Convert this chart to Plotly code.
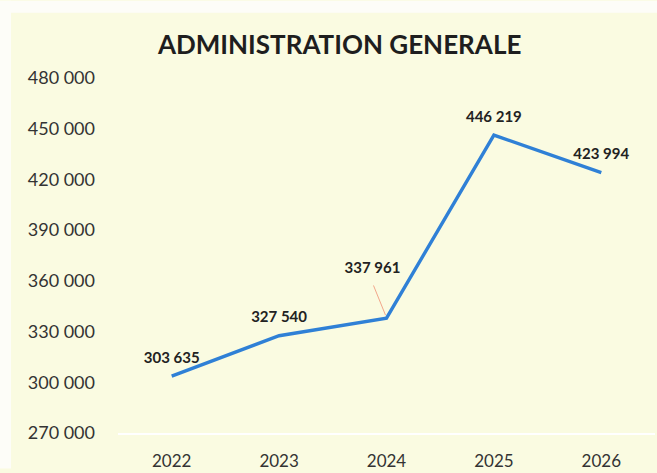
import plotly.graph_objects as go

years = ["2022", "2023", "2024", "2025", "2026"]
values = [303635, 327540, 337961, 446219, 423994]
value_labels = ["303 635", "327 540", "337 961", "446 219", "423 994"]
y_ticks = [270000, 300000, 330000, 360000, 390000, 420000, 450000, 480000]
y_tick_labels = ["270 000", "300 000", "330 000", "360 000", "390 000", "420 000", "450 000", "480 000"]

FONT = "Lato, Open Sans, sans-serif"
BG = "#fafbe1"
Y_MIN, Y_MAX = 270000, 480000
PLOT_H = 473 - 78 - 36
PLOT_W = 657 - 118 - 2
UNIT_PER_PX_Y = (Y_MAX - Y_MIN) / PLOT_H
UNIT_PER_PX_X = 5 / PLOT_W

xs = list(range(len(years)))

fig = go.Figure()
fig.add_trace(go.Scatter(
    x=xs, y=values, mode="lines",
    line=dict(color="#2f80d6", width=3.4),
    hoverinfo="skip", showlegend=False,
))

# data labels (all but the one with a leader line)
lab_x = [x for i, x in enumerate(xs) if i != 2]
lab_y = [v for i, v in enumerate(values) if i != 2]
lab_t = ["<b>%s</b>" % t for i, t in enumerate(value_labels) if i != 2]
fig.add_trace(go.Scatter(
    x=lab_x, y=lab_y, text=lab_t, mode="markers+text", textposition="top center",
    marker=dict(size=14, color="rgba(0,0,0,0)"),
    textfont=dict(family=FONT, size=15, color="#222222"),
    hoverinfo="skip", showlegend=False, cliponaxis=False,
))

# offset label with a leader line for 2024
v2 = values[2]
fig.add_trace(go.Scatter(
    x=[xs[2] - 1 * UNIT_PER_PX_X, xs[2] - 13 * UNIT_PER_PX_X],
    y=[v2 + 3 * UNIT_PER_PX_Y, v2 + 33 * UNIT_PER_PX_Y],
    mode="lines", line=dict(color="#f2a68a", width=1),
    hoverinfo="skip", showlegend=False,
))
fig.add_trace(go.Scatter(
    x=[xs[2] - 14 * UNIT_PER_PX_X], y=[v2 + 49 * UNIT_PER_PX_Y],
    text=["<b>%s</b>" % value_labels[2]], mode="text", textposition="middle center",
    textfont=dict(family=FONT, size=15, color="#222222"),
    hoverinfo="skip", showlegend=False, cliponaxis=False,
))

fig.update_layout(
    width=657, height=473,
    margin=dict(l=118, r=2, t=78, b=36),
    paper_bgcolor=BG, plot_bgcolor=BG,
    title=dict(text="<b>ADMINISTRATION GENERALE</b>", x=0.517, xanchor="center",
               y=0.905, yanchor="middle",
               font=dict(family=FONT, size=26, color="#1e1e1e")),
    xaxis=dict(
        range=[-0.5, 4.5], tickvals=xs, ticktext=years, showgrid=False,
        showline=True, linecolor="#ffffff", linewidth=2,
        ticks="", tickfont=dict(family=FONT, size=17, color="#333333"),
        ticklabelstandoff=12, zeroline=False,
    ),
    yaxis=dict(
        range=[Y_MIN, Y_MAX], tickvals=y_ticks, ticktext=y_tick_labels,
        showgrid=False, zeroline=False, showline=False, ticks="",
        tickfont=dict(family=FONT, size=18, color="#333333"),
        ticklabelstandoff=22,
    ),
    shapes=[
        dict(type="rect", xref="paper", yref="paper",
             x0=-118 / PLOT_W, x1=1 + 2 / PLOT_W,
             y0=1 + 66 / PLOT_H, y1=1 + 78 / PLOT_H,
             fillcolor="#fdfdf8", line=dict(width=0), layer="below"),
        dict(type="rect", xref="paper", yref="paper",
             x0=-118 / PLOT_W, x1=-107 / PLOT_W,
             y0=-36 / PLOT_H, y1=1 + 78 / PLOT_H,
             fillcolor="#fdfdf8", line=dict(width=0), layer="below"),
    ],
)

fig.write_html("out.html", config={"displayModeBar": False},
               post_script="document.body.style.margin='0';document.body.style.overflow='hidden';")
